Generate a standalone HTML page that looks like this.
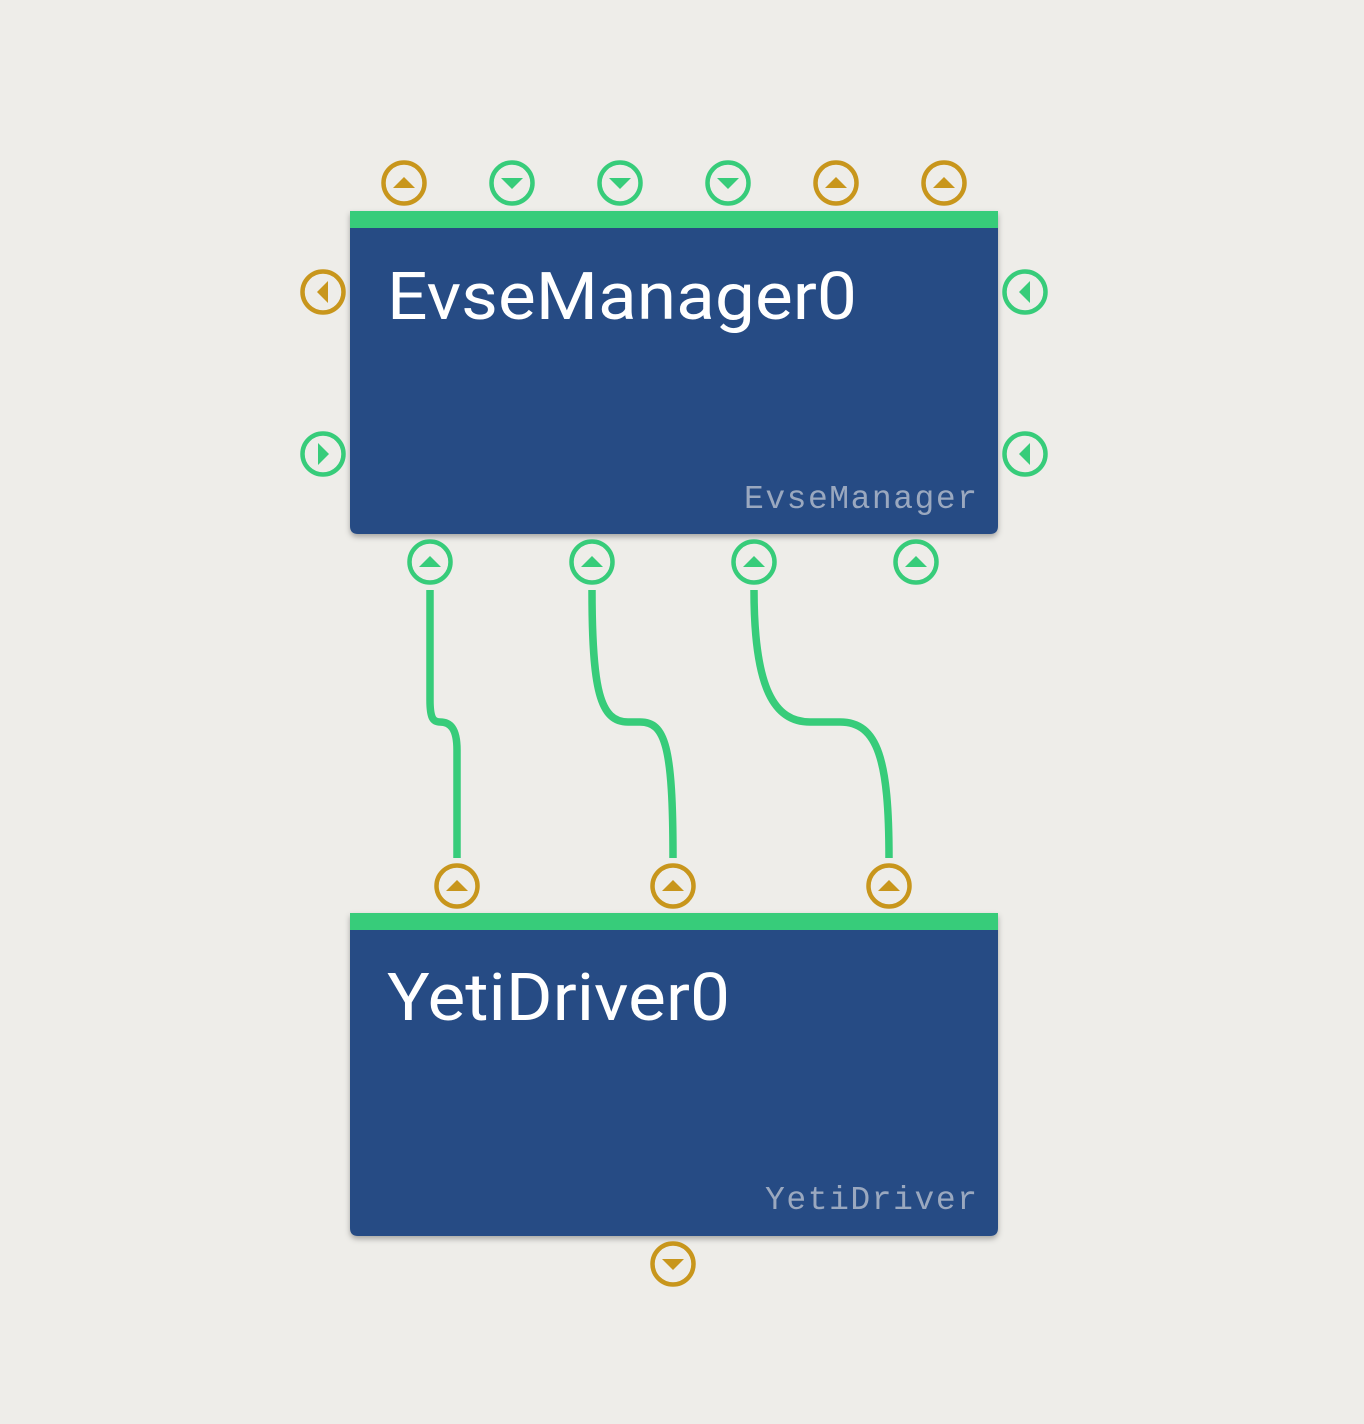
<!DOCTYPE html>
<html><head><style>
html,body{margin:0;padding:0;background:#eeede9;}
svg{display:block}
</style></head><body>
<svg width="1364" height="1424" viewBox="0 0 1364 1424" xmlns="http://www.w3.org/2000/svg">
<defs>
<filter id="sh" x="-5%" y="-5%" width="110%" height="115%"><feDropShadow dx="0" dy="3" stdDeviation="3" flood-color="#000" flood-opacity="0.3"/></filter>
<g id="cg"><circle r="20.5" fill="none" stroke="currentColor" stroke-width="4.5"/></g>
</defs>
<rect width="1364" height="1424" fill="#eeede9"/>
<g fill="none" stroke="#37cc7a" stroke-width="7.5">
<path d="M430 590 L430 700 C430 718 433 722 440 722 C450 722 457 728 457 750 L457 858"/>
<path d="M592 590 C592 690 600 722 628 722 L640 722 C665 722 673 745 673 858"/>
<path d="M754 590 C754 690 775 722 810 722 L840 722 C878 722 889 760 889 858"/>
</g>
<g filter="url(#sh)">
<path d="M350 211 H998 V526 Q998 534 990 534 H358 Q350 534 350 526 Z" fill="#254c84"/>
</g>
<rect x="350" y="211" width="648" height="17" fill="#37cc7a"/>
<text x="387" y="319" font-family="Roboto, 'Liberation Sans', sans-serif" font-size="66" fill="#fff" textLength="470" lengthAdjust="spacingAndGlyphs">EvseManager0</text>
<text x="977" y="508" text-anchor="end" font-family="'Liberation Mono', monospace" font-size="33" fill="#9aa8bf" textLength="233">EvseManager</text>
<g filter="url(#sh)">
<path d="M350 913 H998 V1228 Q998 1236 990 1236 H358 Q350 1236 350 1228 Z" fill="#254c84"/>
</g>
<rect x="350" y="913" width="648" height="17" fill="#37cc7a"/>
<text x="387" y="1020" font-family="Roboto, 'Liberation Sans', sans-serif" font-size="66" fill="#fff" textLength="343" lengthAdjust="spacingAndGlyphs">YetiDriver0</text>
<text x="977" y="1209" text-anchor="end" font-family="'Liberation Mono', monospace" font-size="33" fill="#9aa8bf" textLength="212">YetiDriver</text>
<g>
<g transform="translate(404,183)" color="#c8961c"><use href="#cg"/><path d="M-11 5 L11 5 L0 -6 Z" fill="currentColor"/></g>
<g transform="translate(512,183)" color="#37cc7a"><use href="#cg"/><path d="M-11 -5 L11 -5 L0 6 Z" fill="currentColor"/></g>
<g transform="translate(620,183)" color="#37cc7a"><use href="#cg"/><path d="M-11 -5 L11 -5 L0 6 Z" fill="currentColor"/></g>
<g transform="translate(728,183)" color="#37cc7a"><use href="#cg"/><path d="M-11 -5 L11 -5 L0 6 Z" fill="currentColor"/></g>
<g transform="translate(836,183)" color="#c8961c"><use href="#cg"/><path d="M-11 5 L11 5 L0 -6 Z" fill="currentColor"/></g>
<g transform="translate(944,183)" color="#c8961c"><use href="#cg"/><path d="M-11 5 L11 5 L0 -6 Z" fill="currentColor"/></g>
<g transform="translate(323,292)" color="#c8961c"><use href="#cg"/><path d="M5 -11 L5 11 L-6 0 Z" fill="currentColor"/></g>
<g transform="translate(323,454)" color="#37cc7a"><use href="#cg"/><path d="M-5 -11 L-5 11 L6 0 Z" fill="currentColor"/></g>
<g transform="translate(1025,292)" color="#37cc7a"><use href="#cg"/><path d="M5 -11 L5 11 L-6 0 Z" fill="currentColor"/></g>
<g transform="translate(1025,454)" color="#37cc7a"><use href="#cg"/><path d="M5 -11 L5 11 L-6 0 Z" fill="currentColor"/></g>
<g transform="translate(430,562)" color="#37cc7a"><use href="#cg"/><path d="M-11 5 L11 5 L0 -6 Z" fill="currentColor"/></g>
<g transform="translate(592,562)" color="#37cc7a"><use href="#cg"/><path d="M-11 5 L11 5 L0 -6 Z" fill="currentColor"/></g>
<g transform="translate(754,562)" color="#37cc7a"><use href="#cg"/><path d="M-11 5 L11 5 L0 -6 Z" fill="currentColor"/></g>
<g transform="translate(916,562)" color="#37cc7a"><use href="#cg"/><path d="M-11 5 L11 5 L0 -6 Z" fill="currentColor"/></g>
<g transform="translate(457,886)" color="#c8961c"><use href="#cg"/><path d="M-11 5 L11 5 L0 -6 Z" fill="currentColor"/></g>
<g transform="translate(673,886)" color="#c8961c"><use href="#cg"/><path d="M-11 5 L11 5 L0 -6 Z" fill="currentColor"/></g>
<g transform="translate(889,886)" color="#c8961c"><use href="#cg"/><path d="M-11 5 L11 5 L0 -6 Z" fill="currentColor"/></g>
<g transform="translate(673,1264)" color="#c8961c"><use href="#cg"/><path d="M-11 -5 L11 -5 L0 6 Z" fill="currentColor"/></g>
</g>
</svg>
</body></html>
